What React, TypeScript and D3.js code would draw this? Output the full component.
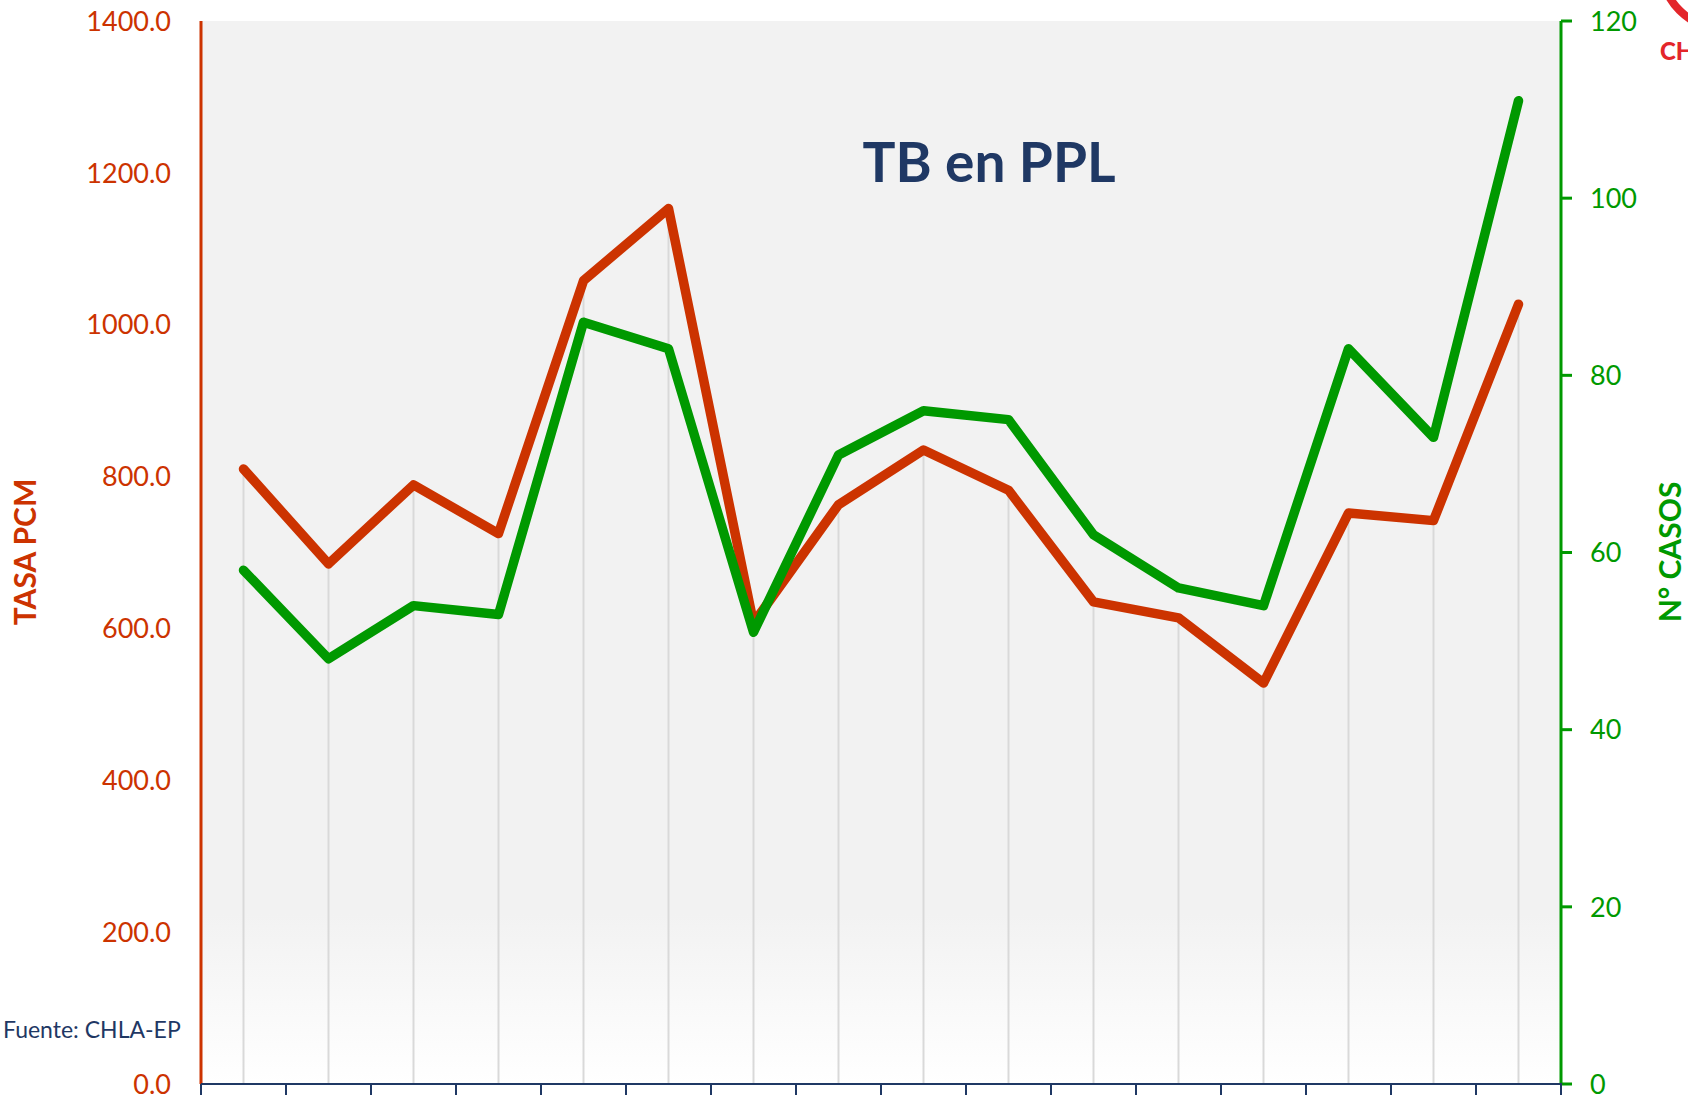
import React from "react";
import * as d3 from "d3";

const categories = ["1","2","3","4","5","6","7","8","9","10","11","12","13","14","15","16"];
const tasaPCM = [810, 685, 789, 725, 1058, 1153, 607, 763, 835, 782, 635, 614, 528, 752, 742, 1027];
const nCasos = [58, 48, 54, 53, 86, 83, 51, 71, 76, 75, 62, 56, 54, 83, 73, 111];
const leftTicks = [0, 200, 400, 600, 800, 1000, 1200, 1400];
const rightTicks = [0, 20, 40, 60, 80, 100, 120];

const W = 1688, H = 1095;
const M = { left: 201, right: 1561, top: 21, bottom: 1084 };
const RED = "#CC3300";
const GREEN = "#009900";
const NAVY = "#1F3864";
const FONT = "Lato, 'Open Sans', sans-serif";

export default function App() {
  const x = d3.scaleBand<string>().domain(categories).range([M.left, M.right]).padding(0);
  const yL = d3.scaleLinear().domain([0, 1400]).range([M.bottom, M.top]);
  const yR = d3.scaleLinear().domain([0, 120]).range([M.bottom, M.top]);
  const cx = (c: string) => (x(c) as number) + x.bandwidth() / 2;

  const redLine = d3.line<number>().x((_, i) => cx(categories[i])).y((d) => yL(d))(tasaPCM) || "";
  const greenLine = d3.line<number>().x((_, i) => cx(categories[i])).y((d) => yR(d))(nCasos) || "";
  const boundaries = categories.map((c) => x(c) as number).concat([M.right]);

  return (
    <svg width={W} height={H} style={{ position: "absolute", left: 0, top: 0, display: "block", background: "#fff" }}>
      <defs>
        <linearGradient id="bg" x1="0" y1="0" x2="0" y2="1">
          <stop offset="0" stopColor="#F2F2F2" />
          <stop offset="0.84" stopColor="#F2F2F2" />
          <stop offset="1" stopColor="#FFFFFF" />
        </linearGradient>
      </defs>
      <rect x={M.left} y={M.top} width={M.right - M.left} height={M.bottom - M.top} fill="url(#bg)" />

      {/* drop lines */}
      {categories.map((c, i) => (
        <line key={"d" + c} x1={cx(c)} x2={cx(c)} y1={yL(tasaPCM[i])} y2={M.bottom} stroke="#D9D9D9" strokeWidth={2} />
      ))}

      {/* title */}
      <text x={989} y={182} textAnchor="middle" fontFamily={FONT} fontWeight={700} fontSize={55} fill={NAVY}>TB en PPL</text>

      {/* series */}
      <path d={redLine} fill="none" stroke={RED} strokeWidth={9.5} strokeLinejoin="round" strokeLinecap="round" />
      <path d={greenLine} fill="none" stroke={GREEN} strokeWidth={9.5} strokeLinejoin="round" strokeLinecap="round" />

      {/* left axis */}
      <line x1={M.left} x2={M.left} y1={M.top} y2={M.bottom} stroke={RED} strokeWidth={3} />
      {leftTicks.map((t) => (
        <text key={"l" + t} x={171} y={yL(t)} dy="0.36em" textAnchor="end" fontFamily={FONT} fontSize={27} fill={RED}>
          {t.toFixed(1)}
        </text>
      ))}
      <text transform={`translate(36,552) rotate(-90)`} textAnchor="middle" fontFamily={FONT} fontWeight={700} fontSize={30} fill={RED}>TASA PCM</text>

      {/* right axis */}
      <line x1={M.right} x2={M.right} y1={M.top} y2={M.bottom} stroke={GREEN} strokeWidth={3} />
      {rightTicks.map((t) => (
        <g key={"r" + t}>
          <line x1={M.right} x2={M.right + 11} y1={yR(t)} y2={yR(t)} stroke={GREEN} strokeWidth={3} />
          <text x={1590} y={yR(t)} dy="0.36em" textAnchor="start" fontFamily={FONT} fontSize={27} fill={GREEN}>{t}</text>
        </g>
      ))}
      <text transform={`translate(1681,552) rotate(-90)`} textAnchor="middle" fontFamily={FONT} fontWeight={700} fontSize={30} fill={GREEN}>N° CASOS</text>

      {/* x axis */}
      <line x1={M.left} x2={M.right + 1} y1={M.bottom} y2={M.bottom} stroke={NAVY} strokeWidth={2} />
      {boundaries.map((b, i) => (
        <line key={"t" + i} x1={b} x2={b} y1={M.bottom} y2={H} stroke={NAVY} strokeWidth={2} />
      ))}

      {/* source */}
      <text x={3} y={1038} fontFamily={FONT} fontSize={23} fill={NAVY}>Fuente: CHLA-EP</text>

      {/* logo fragment */}
      <circle cx={1722} cy={-32} r={60} fill="none" stroke="#E3262B" strokeWidth={8} />
      <text x={1660} y={60} fontFamily={FONT} fontWeight={900} fontSize={24} fill="#E3262B">CH</text>
    </svg>
  );
}
